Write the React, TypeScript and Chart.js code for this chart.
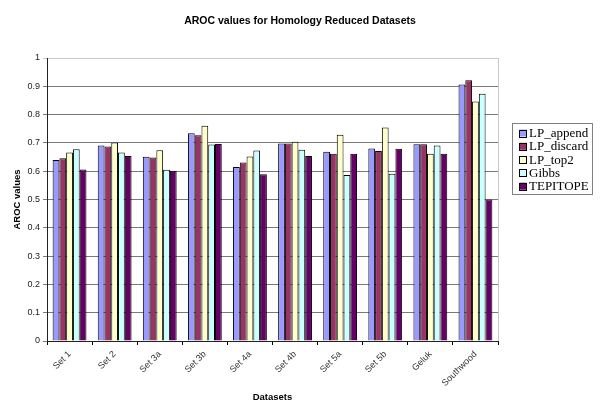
import React, { useEffect, useRef } from "react";
import { Chart, registerables } from "chart.js";

Chart.register(...registerables);

const chartTitle = "AROC values for Homology Reduced Datasets";
const categories = ["Set 1", "Set 2", "Set 3a", "Set 3b", "Set 4a", "Set 4b", "Set 5a", "Set 5b", "Geluk", "Southwood"];
const lpAppend = [0.64, 0.691, 0.651, 0.734, 0.615, 0.698, 0.669, 0.68, 0.695, 0.906];
const lpDiscard = [0.646, 0.687, 0.648, 0.727, 0.631, 0.698, 0.662, 0.671, 0.695, 0.921];
const lpTop2 = [0.666, 0.701, 0.674, 0.761, 0.652, 0.704, 0.729, 0.754, 0.662, 0.846];
const gibbs = [0.678, 0.666, 0.605, 0.694, 0.673, 0.676, 0.587, 0.591, 0.691, 0.874];
const tepitope = [0.606, 0.654, 0.602, 0.696, 0.589, 0.654, 0.662, 0.679, 0.662, 0.5];
const seriesNames = ["LP_append", "LP_discard", "LP_top2", "Gibbs", "TEPITOPE"];
const seriesColors = ["#9999FF", "#993366", "#FFFFCC", "#CCFFFF", "#660066"];

const decorPlugin = {
  id: "decor",
  afterDraw(chart: any) {
    const ctx = chart.ctx;
    ctx.save();
    ctx.fillStyle = "#000";
    ctx.font = "bold 10.5px Arial, 'Liberation Sans', sans-serif";
    ctx.textAlign = "center";
    ctx.textBaseline = "middle";
    ctx.fillText(chartTitle, chart.width / 2, 21);
    const x = 512, y = 123, w = 80, h = 71;
    ctx.fillStyle = "#fff";
    ctx.fillRect(x, y, w, h);
    ctx.strokeStyle = "#808080";
    ctx.lineWidth = 1;
    ctx.strokeRect(x + 0.5, y + 0.5, w, h);
    ctx.font = "13px 'Liberation Serif', 'Times New Roman', serif";
    ctx.textBaseline = "middle";
    ctx.textAlign = "left";
    chart.data.datasets.forEach((ds: any, i: number) => {
      const cy = y + 10 + i * 13.3;
      ctx.fillStyle = ds.backgroundColor;
      ctx.fillRect(x + 7.5, cy - 3.5, 7, 7);
      ctx.strokeStyle = "#000";
      ctx.strokeRect(x + 7.5, Math.round(cy - 3.5) + 0.5, 7, 7);
      ctx.fillStyle = "#000";
      ctx.fillText(ds.label, x + 17, cy + 0.5);
    });
    ctx.restore();
  },
  beforeDatasetsDraw(chart: any) {
    const { ctx, chartArea } = chart;
    ctx.save();
    ctx.strokeStyle = "#c8c8c8";
    ctx.lineWidth = 1;
    ctx.beginPath();
    ctx.moveTo(Math.round(chartArea.right) + 0.5, chartArea.top);
    ctx.lineTo(Math.round(chartArea.right) + 0.5, chartArea.bottom);
    ctx.stroke();
    ctx.restore();
  },
};

export default function App() {
  const ref = useRef<HTMLCanvasElement>(null);
  useEffect(() => {
    if (!ref.current) return;
    const values = [lpAppend, lpDiscard, lpTop2, gibbs, tepitope];
    const chart = new Chart(ref.current, {
      type: "bar",
      data: {
        labels: categories,
        datasets: values.map((v, i) => ({
          label: seriesNames[i],
          data: v,
          backgroundColor: seriesColors[i],
          borderColor: "#000",
          borderWidth: 1,
          borderSkipped: "bottom",
          categoryPercentage: 0.75,
          barPercentage: 1,
        })),
      },
      options: {
        responsive: false,
        animation: false,
        layout: { padding: { left: 0, right: 102, top: 58, bottom: 0 } },
        plugins: {
          legend: { display: false },
          tooltip: { enabled: false },
          title: { display: false },
        },
        scales: {
          x: {
            offset: true,
            grid: { display: true, drawOnChartArea: false, drawTicks: true, tickLength: 4, color: "#000", offset: true },
            border: { display: true, color: "#222" },
            ticks: {
              minRotation: 45,
              maxRotation: 45,
              padding: 4,
              color: "#333",
              font: { family: "Arial, 'Liberation Sans', sans-serif", size: 9 },
            },
            title: {
              display: true,
              text: "Datasets",
              color: "#000",
              font: { family: "Arial, 'Liberation Sans', sans-serif", size: 9.5, weight: "bold" },
              padding: { top: 0, bottom: 8 },
            },
            afterFit(scale: any) {
              scale.height = 70;
            },
          },
          y: {
            min: 0,
            max: 1,
            ticks: {
              stepSize: 0.1,
              padding: 3,
              color: "#222",
              font: { family: "Arial, 'Liberation Sans', sans-serif", size: 9 },
              callback: (v: any) => String(Math.round(Number(v) * 10) / 10),
            },
            grid: {
              tickLength: 4,
              color: (c: any) => (c.tick && c.tick.value === 1 ? "#c8c8c8" : "#7a7a7a"),
            },
            border: { display: true, color: "#222" },
            title: {
              display: true,
              text: "AROC values",
              color: "#000",
              font: { family: "Arial, 'Liberation Sans', sans-serif", size: 9.5, weight: "bold" },
              padding: { top: 12, bottom: 0 },
            },
            afterFit(scale: any) {
              scale.width = 47;
            },
          },
        },
      },
      plugins: [decorPlugin],
    });
    return () => chart.destroy();
  }, []);
  return (
    <div style={{ position: "absolute", left: 0, top: 0, width: 600, height: 411, background: "#fff" }}>
      <canvas ref={ref} width={600} height={411} />
    </div>
  );
}
